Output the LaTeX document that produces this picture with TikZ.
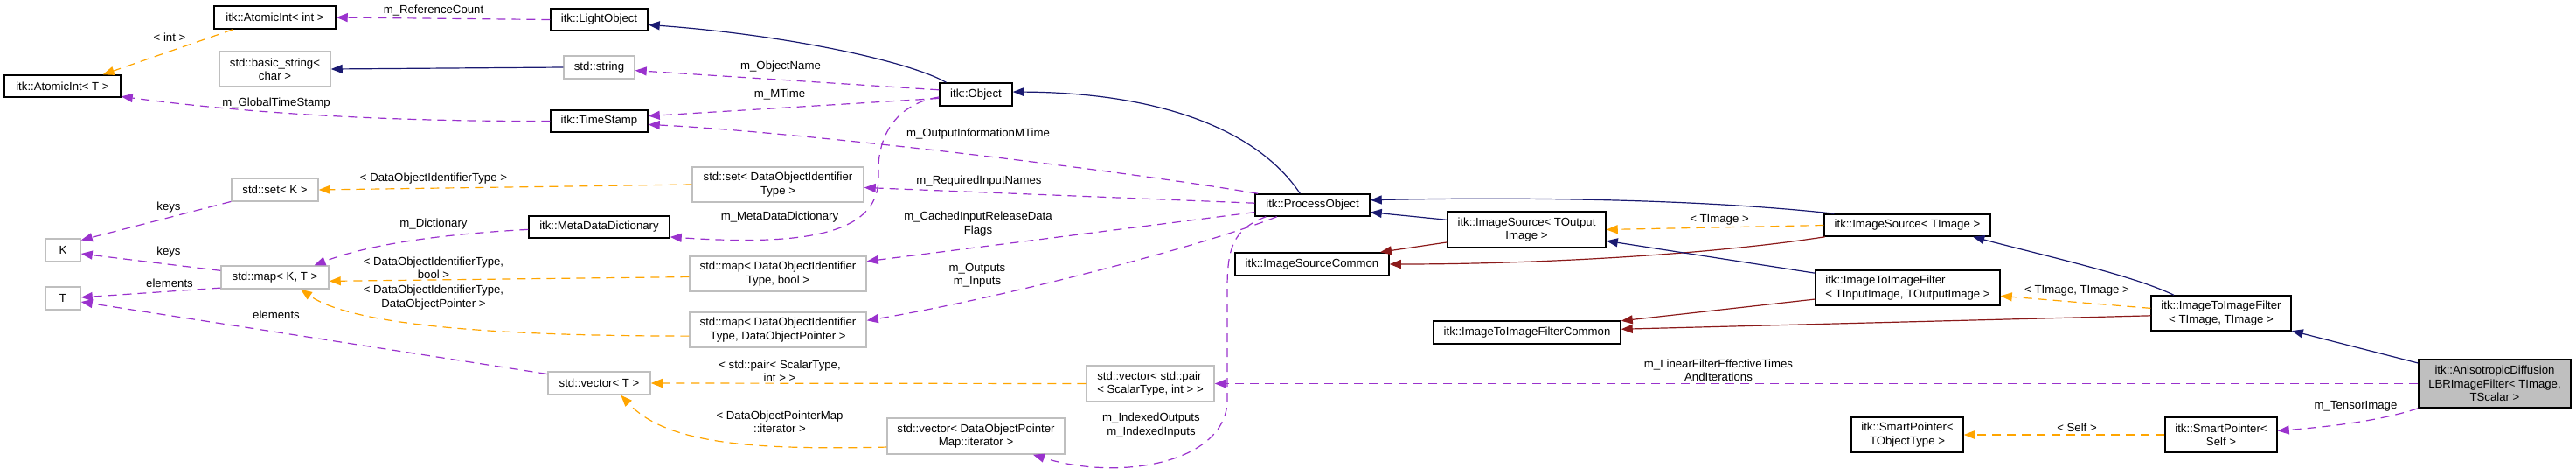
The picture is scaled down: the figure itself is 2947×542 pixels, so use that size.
\documentclass[tikz,border=0pt]{standalone}
\usepackage{fontspec}
\setmainfont{Liberation Sans}
\usetikzlibrary{arrows.meta}
\definecolor{inhblue}{HTML}{191970}
\definecolor{privred}{HTML}{8B1A1A}
\definecolor{usepurple}{HTML}{9A32CD}
\definecolor{tmplorange}{HTML}{FFA500}
\definecolor{boxgrey}{HTML}{BFBFBF}
\begin{document}
\begin{tikzpicture}[x=0.5pt, y=-0.5pt, line width=0.6pt,
  every node/.style={font=\fontsize{6.6}{7.7}\selectfont, inner sep=1pt},
  sz/.style 2 args={minimum width=#1pt, minimum height=#2pt},
  cls/.style={draw=black, line width=0.75pt, align=center},
  extcls/.style={draw=boxgrey, line width=0.75pt, align=center},
  lbl/.style={align=center},
  pubinh/.style={draw=inhblue, -{Triangle[length=6.5pt,width=5pt]}},
  privinh/.style={draw=privred, -{Triangle[length=6.5pt,width=5pt]}},
  uses/.style={draw=usepurple, dash pattern=on 5pt off 3.5pt, -{Triangle[length=6.5pt,width=5pt]}},
  tmpl/.style={draw=tmplorange, dash pattern=on 5pt off 3.5pt, -{Triangle[length=6.5pt,width=5pt]}}]
  \useasboundingbox (0,0) rectangle (2947,542);
  \node[cls, sz={69.5}{13}] (aiInt) at (314.5,20) {itk::AtomicInt< int >};
  \node[cls, sz={55.5}{12.5}] (light) at (685.5,22.5) {itk::LightObject};
  \node[extcls, sz={63.5}{20}] (bstr) at (314.5,79) {std::basic\_string<\\char >};
  \node[extcls, sz={40.5}{13}] (str) at (685.5,77) {std::string};
  \node[cls, sz={66.5}{12.5}] (aiT) at (71.5,98.5) {itk::AtomicInt< T >};
  \node[cls, sz={55.5}{12.5}] (ts) at (685.5,138.5) {itk::TimeStamp};
  \node[extcls, sz={49.5}{13}] (setK) at (314.5,217) {std::set< K >};
  \node[cls, sz={80.5}{12.5}] (mdd) at (685.5,259.5) {itk::MetaDataDictionary};
  \node[extcls, sz={20}{13}] (K) at (72,286) {K};
  \node[extcls, sz={20}{13}] (T) at (72,341) {T};
  \node[extcls, sz={61.5}{13}] (mapKT) at (314.5,317) {std::map< K, T >};
  \node[extcls, sz={58.5}{13}] (vecT) at (685.5,438) {std::vector< T >};
  \node[cls, sz={41.5}{13}] (obj) at (1116.5,108) {itk::Object};
  \node[extcls, sz={98}{20}] (setDO) at (890,211) {std::set< DataObjectIdentifier\\Type >};
  \node[cls, sz={65.5}{12.5}] (po) at (1501.5,234.5) {itk::ProcessObject};
  \node[extcls, sz={101}{20}] (mapB) at (890,313) {std::map< DataObjectIdentifier\\Type, bool >};
  \node[extcls, sz={101}{20}] (mapP) at (890,377) {std::map< DataObjectIdentifier\\Type, DataObjectPointer >};
  \node[extcls, sz={73}{20.5}, align=left] (vecPair) at (1316,438.5) {std::vector< std::pair\\< ScalarType, int > >};
  \node[extcls, sz={101.5}{20.5}] (vecIt) at (1116.5,498.5) {std::vector< DataObjectPointer\\Map::iterator >};
  \node[cls, sz={88}{13}] (isc) at (1501,302) {itk::ImageSourceCommon};
  \node[cls, sz={90.5}{20.5}] (isOut) at (1746.5,262.5) {itk::ImageSource< TOutput\\Image >};
  \node[cls, sz={95}{12.5}] (isImg) at (2182,257.5) {itk::ImageSource< TImage >};
  \node[cls, sz={107}{13}] (itifc) at (1747,380) {itk::ImageToImageFilterCommon};
  \node[cls, sz={105.5}{20}, align=left] (itifIO) at (2182.5,329) {itk::ImageToImageFilter\\< TInputImage, TOutputImage >};
  \node[cls, sz={64}{20}] (spT) at (2182,497) {itk::SmartPointer<\\TObjectType >};
  \node[cls, sz={80}{20}] (itifII) at (2541,358) {itk::ImageToImageFilter\\< TImage, TImage >};
  \node[cls, sz={87}{27.5}, fill=boxgrey] (aniso) at (2854,438.5) {itk::AnisotropicDiffusion\\LBRImageFilter< TImage,\\TScalar >};
  \node[cls, sz={64}{20}] (spS) at (2541,497) {itk::SmartPointer<\\Self >};
  \draw[uses] (light.west) -- (aiInt.east);
  \draw[tmpl] (aiInt.-164) -- (aiT.16);
  \draw[pubinh] (str.west) -- (bstr.east);
  \draw[uses] (ts.west) .. controls (400,139) and (250,125) .. (aiT.-10);
  \draw[pubinh] (obj.158) .. controls (1040,70) and (900,40) .. (light.-6);
  \draw[uses] (obj.173) -- (str.-5);
  \draw[uses] (obj.-174) -- (ts.6);
  \draw[uses] (obj.-176) .. controls (1030,118) and (1003,150) .. (1005,200) .. controls (1008,265) and (930,282) .. (mdd.-8);
  \draw[pubinh] (po.137) .. controls (1440,150) and (1330,106) .. (obj.4);
  \draw[uses] (po.168) .. controls (1250,190) and (900,150) .. (ts.-4);
  \draw[uses] (po.178) -- (setDO.-2);
  \draw[uses] (po.-173) -- (mapB.8);
  \draw[uses] (po.-162) .. controls (1380,280) and (1150,340) .. (mapP.6);
  \draw[uses] (po.-166) .. controls (1410,262) and (1404,285) .. (1404,330) -- (1404,460) .. controls (1400,530) and (1280,550) .. (vecIt.-18);
  \draw[tmpl] (setDO.west) -- (setK.east);
  \draw[uses] (setK.-165) -- (K.29);
  \draw[uses] (mdd.-178) .. controls (500,268) and (420,280) .. (mapKT.17);
  \draw[uses] (mapKT.173) -- (K.-11);
  \draw[uses] (mapKT.-169) -- (T.3);
  \draw[uses] (vecT.170) -- (T.-11);
  \draw[tmpl] (mapB.-178) -- (mapKT.-4);
  \draw[tmpl] (mapP.-176) .. controls (550,384) and (400,370) .. (mapKT.-25);
  \draw[tmpl] (vecPair.west) -- (vecT.east);
  \draw[tmpl] (vecIt.-173) .. controls (850,515) and (760,505) .. (vecT.-29);
  \draw[pubinh] (isOut.173) -- (po.-7);
  \draw[privinh] (isOut.-171) -- (isc.10);
  \draw[pubinh] (isImg.171) .. controls (1950,228) and (1750,225) .. (po.5);
  \draw[privinh] (isImg.-172) .. controls (1950,292) and (1750,302) .. (isc.east);
  \draw[tmpl] (isImg.west) -- (isOut.east);
  \draw[pubinh] (itifIO.171) -- (isOut.-8);
  \draw[privinh] (itifIO.-173) -- (itifc.7);
  \draw[pubinh] (itifII.159) .. controls (2440,315) and (2350,295) .. (isImg.-10.5);
  \draw[privinh] (itifII.-178) -- (itifc.2);
  \draw[tmpl] (itifII.176) -- (itifIO.-5);
  \draw[pubinh] (aniso.165) -- (itifII.-14);
  \draw[uses] (aniso.west) -- (vecPair.east);
  \draw[uses] (aniso.south west) .. controls (2720,482) and (2660,488) .. (spS.4);
  \draw[tmpl] (spS.west) -- (spT.east);
  \node[lbl] (lRef) at (496,12) {m\_ReferenceCount};
  \node[lbl] (lInt) at (194,43) {< int >};
  \node[lbl] (lGts) at (316,118) {m\_GlobalTimeStamp};
  \node[lbl] (lName) at (893,76) {m\_ObjectName};
  \node[lbl] (lMt) at (892,108) {m\_MTime};
  \node[lbl] (lOim) at (1119,153) {m\_OutputInformationMTime};
  \node[lbl] (lRin) at (1120,207) {m\_RequiredInputNames};
  \node[lbl] (lMdd) at (892,248) {m\_MetaDataDictionary};
  \node[lbl] (lCir) at (1119,256) {m\_CachedInputReleaseData\\Flags};
  \node[lbl] (lDoit) at (496,204) {< DataObjectIdentifierType >};
  \node[lbl] (lKeysA) at (193,237) {keys};
  \node[lbl] (lDict) at (496,256) {m\_Dictionary};
  \node[lbl] (lKeysB) at (193,288) {keys};
  \node[lbl] (lElA) at (194,324) {elements};
  \node[lbl] (lElB) at (316,360) {elements};
  \node[lbl] (lBool) at (496,306) {< DataObjectIdentifierType,\\bool >};
  \node[lbl] (lDop) at (496,340) {< DataObjectIdentifierType,\\DataObjectPointer >};
  \node[lbl] (lIo) at (1118,315) {m\_Outputs\\m\_Inputs};
  \node[lbl] (lPair) at (892,424) {< std::pair< ScalarType,\\int > >};
  \node[lbl] (lIter) at (892,482) {< DataObjectPointerMap\\::iterator >};
  \node[lbl] (lIdx) at (1317,486) {m\_IndexedOutputs\\m\_IndexedInputs};
  \node[lbl] (lTimg) at (1967,251) {< TImage >};
  \node[lbl] (lLin) at (1966,423) {m\_LinearFilterEffectiveTimes\\AndIterations};
  \node[lbl] (lTT) at (2376,332) {< TImage, TImage >};
  \node[lbl] (lTen) at (2695,464) {m\_TensorImage};
  \node[lbl] (lSelf) at (2376,489) {< Self >};
\end{tikzpicture}
\end{document}
